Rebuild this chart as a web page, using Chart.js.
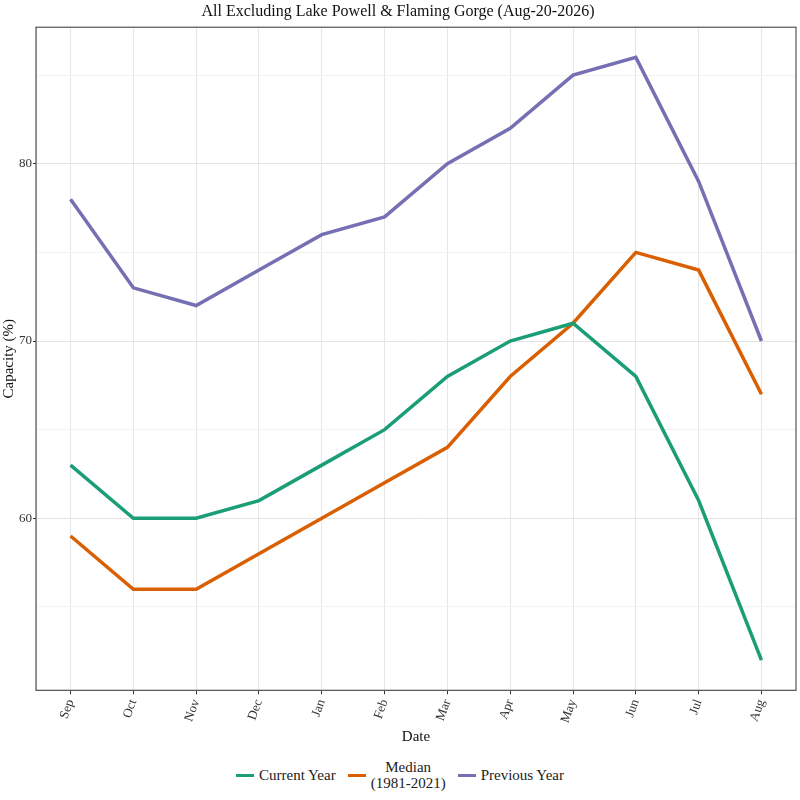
<!DOCTYPE html>
<html><head><meta charset="utf-8">
<script src="https://cdn.jsdelivr.net/npm/chart.js@4"></script>
<style>
body{margin:0;background:#fff;font-family:"Liberation Serif","DejaVu Serif",serif;}
#wrap{position:relative;width:800px;height:800px;}
#legend{position:absolute;left:0;top:759px;width:800px;display:flex;justify-content:center;align-items:center;font-size:15px;color:#222;}
.it{display:flex;align-items:center;margin:0 6px;text-align:center;line-height:16px}
.sw{width:18px;height:3px;margin-right:5px}
</style></head><body>
<div id="wrap"><canvas id="c" width="800" height="750"></canvas>
<div id="legend"></div></div>
<script>
const months = ['Sep','Oct','Nov','Dec','Jan','Feb','Mar','Apr','May','Jun','Jul','Aug'];
const currentYear = [63,60,60,61,63,65,68,70,71,68,61,52];
const median = [59,56,56,58,60,62,64,68,71,75,74,67];
const previousYear = [78,73,72,74,76,77,80,82,85,86,79,70];
const series = [
  {label:'Current Year', data:currentYear, color:'#1b9e77'},
  {label:'Median\n(1981-2021)', data:median, color:'#d95f02'},
  {label:'Previous Year', data:previousYear, color:'#7570b3'}
];
const pts = arr => arr.map((v,i)=>({x:i,y:v}));
const boxPlugin = {id:'box', afterDraw(ch){
  const a=ch.chartArea, c=ch.ctx; c.save(); c.strokeStyle='#333'; c.lineWidth=1;
  c.strokeRect(a.left,a.top,a.right-a.left,a.bottom-a.top); c.restore();}};
new Chart(document.getElementById('c'),{
  type:'line',
  data:{datasets:series.map(s=>({label:s.label,data:pts(s.data),borderColor:s.color,borderWidth:3.5,pointRadius:0,tension:0}))},
  options:{
    responsive:false, animation:false,
    layout:{padding:{left:0,right:4,top:0,bottom:0}},
    plugins:{legend:{display:false},
      title:{display:true,text:'All Excluding Lake Powell & Flaming Gorge (Aug-20-2026)',color:'#111',font:{family:'Liberation Serif',size:16,weight:'normal'},padding:{top:2,bottom:6}}},
    scales:{
      x:{type:'linear',min:-0.55,max:11.55,
        ticks:{stepSize:1,autoSkip:false,maxRotation:70,minRotation:70,color:'#333',font:{family:'Liberation Serif',size:13},
          callback:v=>Number.isInteger(v)?months[v]:''},
        afterBuildTicks:ax=>{ax.ticks=months.map((m,i)=>({value:i}));},
        grid:{color:'#e6e6e6',tickColor:'#333',tickLength:4},
        title:{display:true,text:'Date',color:'#111',font:{family:'Liberation Serif',size:15},padding:{top:0}}},
      y:{min:50.3,max:87.7,
        afterBuildTicks:ax=>{ax.ticks=[55,60,65,70,75,80,85].map(v=>({value:v}));},
        ticks:{padding:1,color:'#333',font:{family:'Liberation Serif',size:13},callback:v=>v%10===0?v:''},
        grid:{color:c=>c.tick&&c.tick.value%10===0?'#e3e3e3':'#f2f2f2',tickColor:c=>c.tick&&c.tick.value%10===0?'#333':'rgba(0,0,0,0)',tickLength:3},
        title:{display:true,text:'Capacity (%)',color:'#111',font:{family:'Liberation Serif',size:15},padding:{top:0,bottom:0}}}
    }
  },
  plugins:[boxPlugin]
});
const lg=document.getElementById('legend');
series.forEach(s=>{
  const d=document.createElement('div');d.className='it';
  d.innerHTML=`<span class="sw" style="background:${s.color}"></span><span>${s.label.replace('\n','<br>')}</span>`;
  lg.appendChild(d);
});
</script></body></html>
